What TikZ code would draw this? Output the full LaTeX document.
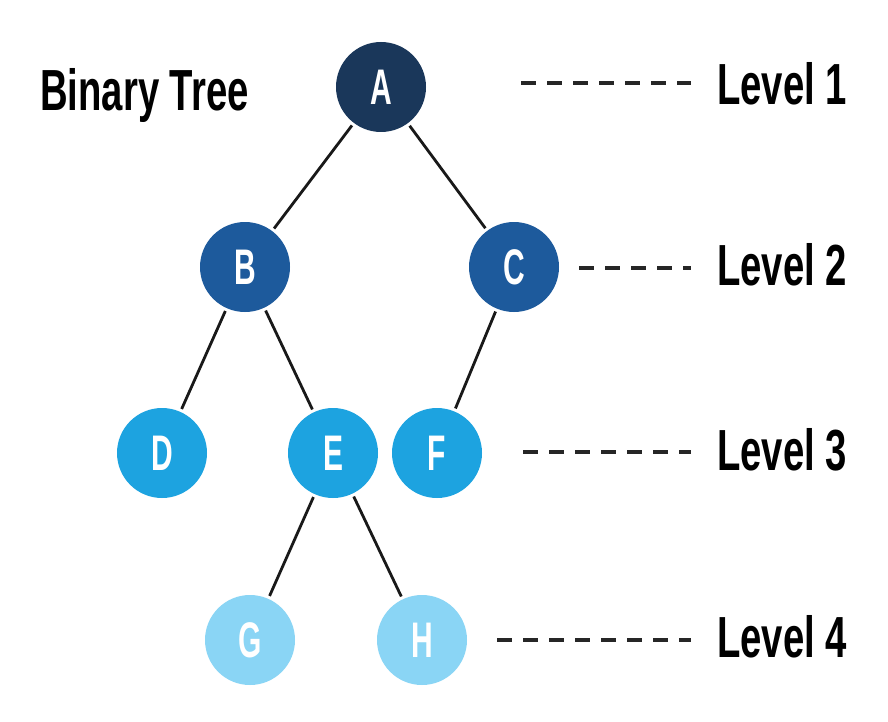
\documentclass[tikz,border=0pt]{standalone}
\usepackage{fontspec}
\newfontfamily\condfont[FakeStretch=0.66]{Liberation Sans}
\newfontfamily\nodefont[FakeStretch=0.6]{Liberation Sans}
\definecolor{lvlone}{HTML}{1A375A}
\definecolor{lvltwo}{HTML}{1D5A9C}
\definecolor{lvlthree}{HTML}{1DA3E0}
\definecolor{lvlfour}{HTML}{8AD5F5}
\tikzset{
  tnode/.style={circle, minimum size=90pt, inner sep=0pt, text=white,
    font=\nodefont\bfseries\fontsize{50}{52}\selectfont},
  edge/.style={line width=2.8pt, black!90, shorten <=3pt, shorten >=3pt},
  lvldash/.style={line width=3.5pt, black!85, dash pattern=on 15pt off 11pt},
  lvltext/.style={anchor=base west, inner sep=0pt,
    font=\condfont\bfseries\fontsize{58}{60}\selectfont},
}
\begin{document}
\begin{tikzpicture}[x=1pt,y=-1pt]
\useasboundingbox (0,0) rectangle (888,722);
\fill[white] (0,0) rectangle (888,722);

\node[tnode, fill=lvlone]   (A) at (381,87)  {A};
\node[tnode, fill=lvltwo]   (B) at (245,267) {B};
\node[tnode, fill=lvltwo]   (C) at (514,267) {C};
\node[tnode, fill=lvlthree] (D) at (162,453) {D};
\node[tnode, fill=lvlthree] (E) at (333,453) {E};
\node[tnode, fill=lvlthree] (F) at (437,453) {F};
\node[tnode, fill=lvlfour]  (G) at (250,640) {G};
\node[tnode, fill=lvlfour]  (H) at (422,640) {H};

\draw[edge] (A) -- (B);
\draw[edge] (A) -- (C);
\draw[edge] (B) -- (D);
\draw[edge] (B) -- (E);
\draw[edge] (C) -- (F);
\draw[edge] (E) -- (G);
\draw[edge] (E) -- (H);

\node[lvltext] (title) at (40,111) {Binary Tree};

\node[lvltext] (L1) at (717,105) {Level 1};
\node[lvltext] (L2) at (717,285) {Level 2};
\node[lvltext] (L3) at (717,470) {Level 3};
\node[lvltext] (L4) at (717,657) {Level 4};

\coordinate (d1s) at (521,83);  \coordinate (d1e) at (691,83);
\coordinate (d2s) at (579,268); \coordinate (d2e) at (691,268);
\coordinate (d3s) at (523,452); \coordinate (d3e) at (691,452);
\coordinate (d4s) at (497,640); \coordinate (d4e) at (691,640);
\draw[lvldash] (d1s) -- (d1e);
\draw[lvldash] (d2s) -- (d2e);
\draw[lvldash] (d3s) -- (d3e);
\draw[lvldash] (d4s) -- (d4e);
\end{tikzpicture}
\end{document}
